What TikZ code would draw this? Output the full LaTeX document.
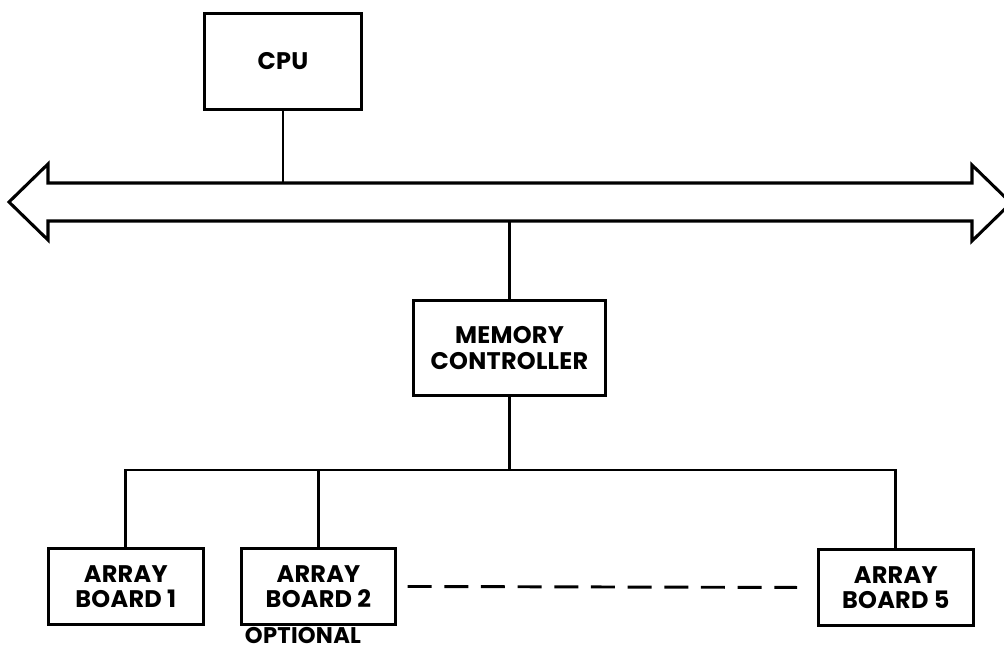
\documentclass[tikz,border=0pt]{standalone}
\usepackage{fontspec}
\setmainfont{Poppins}[LetterSpace=1]
\begin{document}
\begin{tikzpicture}[x=0.75pt,y=-0.75pt,
  line width=2.2pt, line join=miter,
  lbl/.style={font=\fontsize{18}{19}\selectfont\bfseries, align=center},
  unit/.style={draw, lbl, inner sep=0pt, anchor=north west},
  wire/.style={line width=2.2pt}]
\useasboundingbox (0,0) rectangle (1004,649);
% bus
\coordinate (busT) at (0,183);
\coordinate (busB) at (0,221);
\draw[line width=2.3pt] (9,202) -- (48,164) -- (48,183) -- (972,183) -- (972,165) -- (1011,203)
  -- (972,241) -- (972,221) -- (48,221) -- (48,240) -- cycle;
% units
\node[unit, minimum width=117.75pt, minimum height=72pt] (cpu) at (203,12) {CPU};
\node[unit, minimum width=144pt, minimum height=71.25pt] (mc) at (412,299) {MEMORY\\CONTROLLER};
\node[unit, minimum width=116pt, minimum height=57pt] (ab1) at (47,547) {ARRAY\\BOARD 1};
\node[unit, minimum width=115.5pt, minimum height=57pt] (ab2) at (240,547) {ARRAY\\BOARD 2};
\node[unit, minimum width=116pt, minimum height=57pt] (ab5) at (817,548) {ARRAY\\BOARD 5};
\node[anchor=base, inner sep=0pt, font=\fontsize{17}{19}\selectfont\bfseries] (opt) at (303,643) {OPTIONAL};
% connectors
\draw[wire] (cpu.south) -- (cpu.south |- busT);
\draw[wire] (mc.north) -- (mc.north |- busB);
\coordinate (split) at (mc.south |- 0,470);
\coordinate (l1) at (ab1.north |- split);
\coordinate (l5) at (ab5.north |- split);
\draw[wire] (mc.south) -- (split);
\draw[wire] (ab1.north) -- (l1) -- (l5) -- (ab5.north);
\draw[wire] (ab2.north) -- (ab2.north |- split);
\draw[wire, dash pattern=on 18pt off 9.5pt] ([xshift=8pt]ab2.east) -- ([xshift=-15pt]ab5.west);
\end{tikzpicture}
\end{document}
